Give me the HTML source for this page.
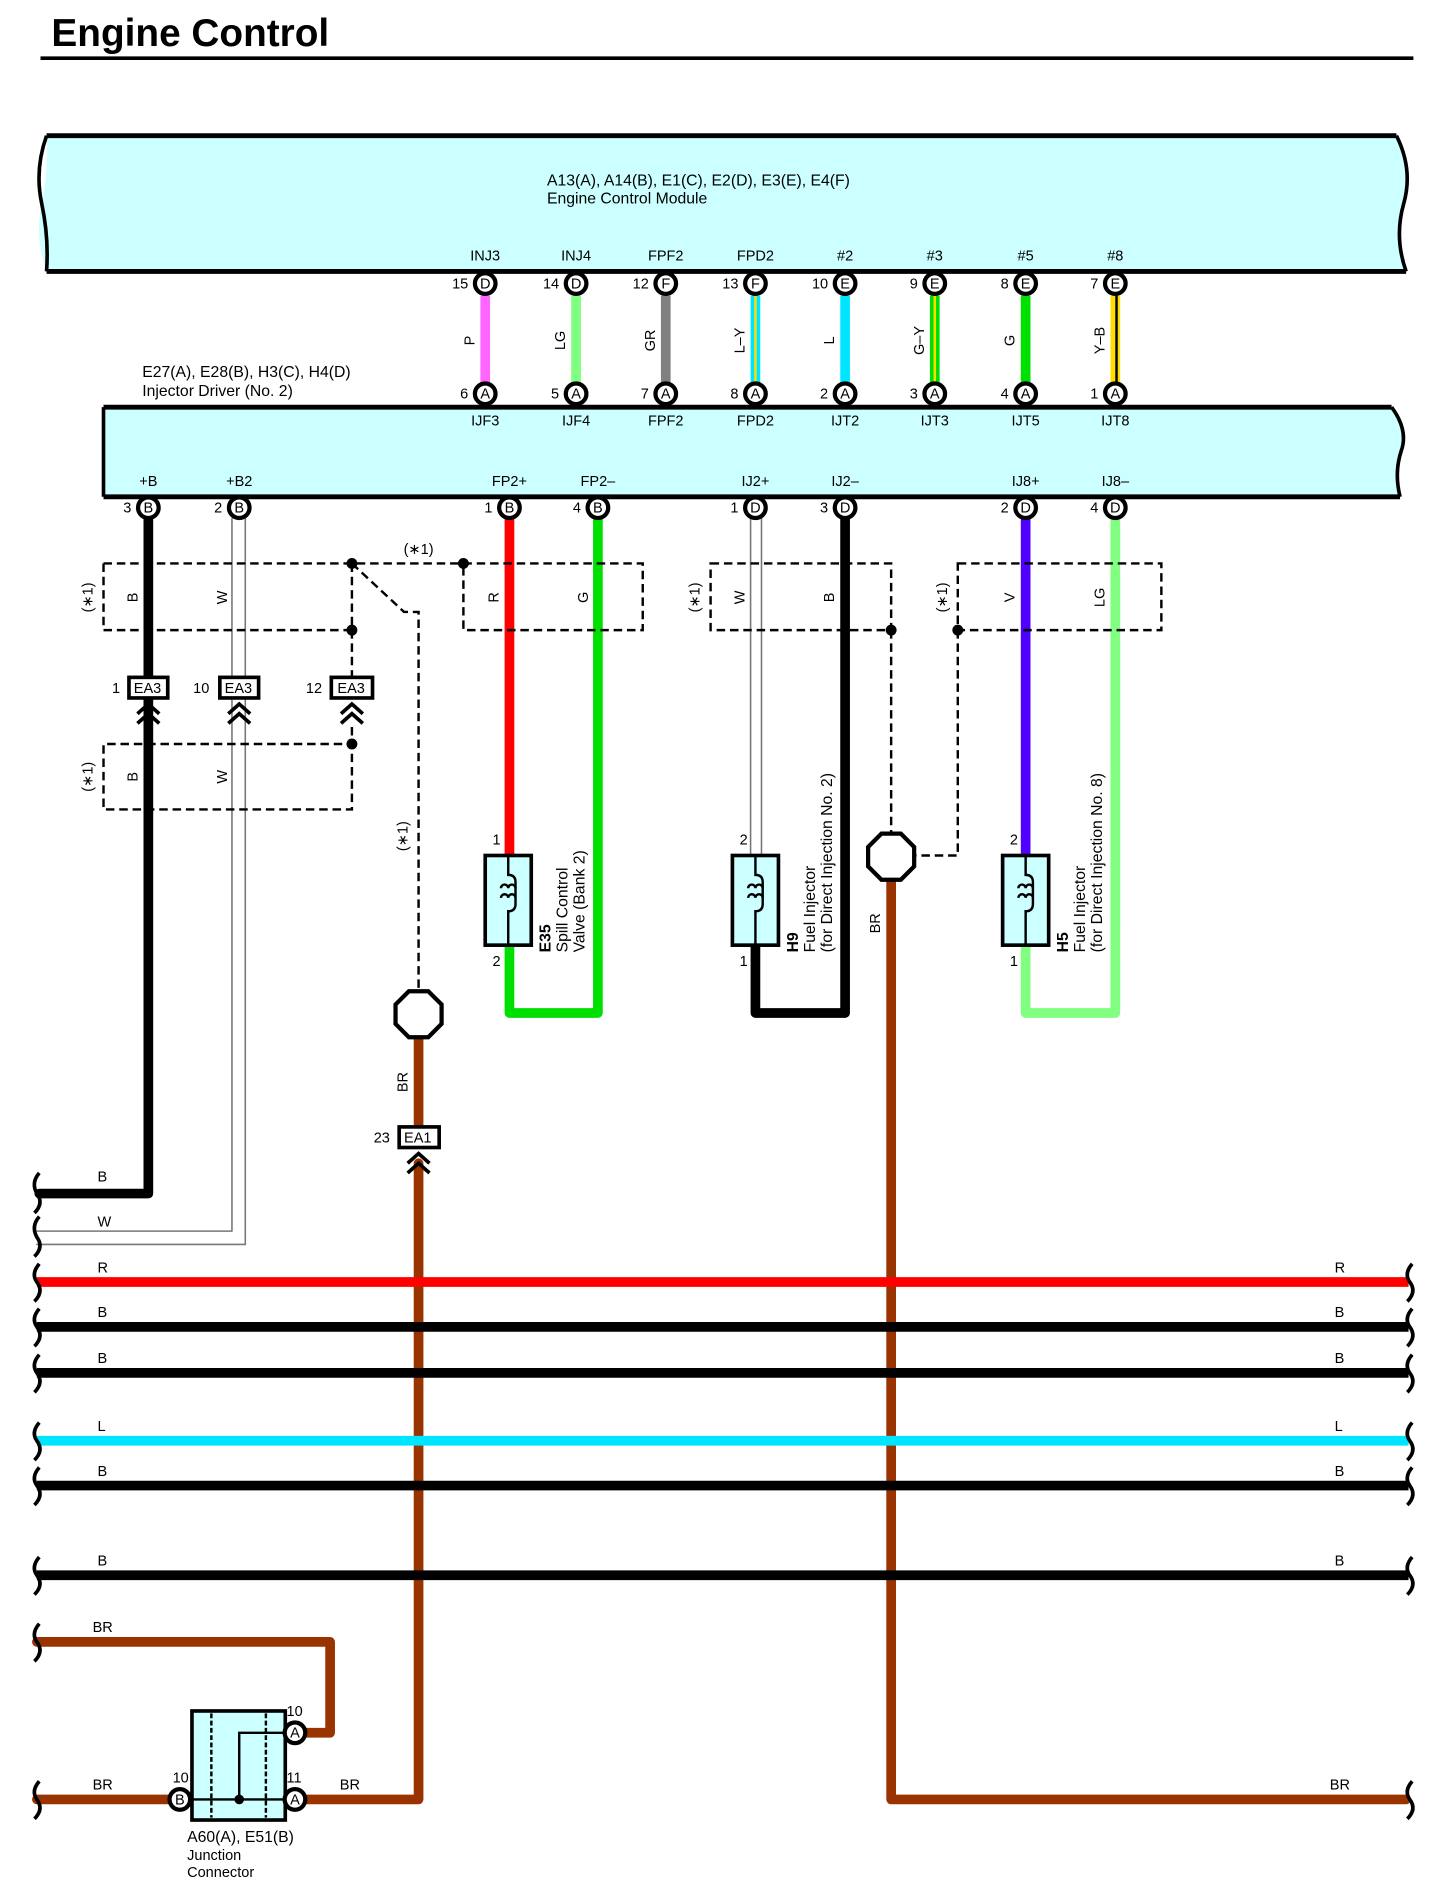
<!DOCTYPE html>
<html><head><meta charset="utf-8"><style>html,body{margin:0;padding:0;background:#fff}svg{display:block}</style></head>
<body>
<svg width="1443" height="1900" viewBox="0 0 1190 1568" xmlns="http://www.w3.org/2000/svg" font-family="Liberation Sans, sans-serif">
<rect width="1190" height="1568" fill="#fff"/>
<text x="42" y="38" font-size="32" font-weight="bold">Engine Control</text>
<line x1="33" y1="48" x2="1166" y2="48" stroke="#000" stroke-width="3"/>

<!-- ECM -->
<path d="M38,112 L1152,112 Q1166,140 1158,168 Q1150,196 1160,224 L38,224 Q28,196 34,168 Q40,140 38,112 Z" fill="#ccffff" stroke="none"/>
<line x1="38" y1="112" x2="1152" y2="112" stroke="#000" stroke-width="4"/>
<line x1="38" y1="224" x2="1160" y2="224" stroke="#000" stroke-width="4"/>
<path d="M38,112 Q28,140 34,168 Q40,196 38,224" fill="none" stroke="#000" stroke-width="3"/>
<path d="M1152,112 Q1166,140 1158,168 Q1150,196 1160,224" fill="none" stroke="#000" stroke-width="3"/>
<text x="451" y="153" font-size="13">A13(A), A14(B), E1(C), E2(D), E3(E), E4(F)</text>
<text x="451" y="168" font-size="13">Engine Control Module</text>

<!-- Injector driver -->
<path d="M85,336 L1148,336 Q1162,355 1156,372 Q1150,390 1155,410 L85,410 Z" fill="#ccffff"/>
<line x1="85" y1="336" x2="1148" y2="336" stroke="#000" stroke-width="4"/>
<line x1="85" y1="410" x2="1155" y2="410" stroke="#000" stroke-width="4"/>
<line x1="85" y1="336" x2="85" y2="410" stroke="#000" stroke-width="3"/>
<path d="M1148,336 Q1162,355 1156,372 Q1150,390 1155,410" fill="none" stroke="#000" stroke-width="3"/>
<text x="117" y="311" font-size="13">E27(A), E28(B), H3(C), H4(D)</text>
<text x="117" y="327" font-size="13">Injector Driver (No. 2)</text>

<!-- top wires -->
<g stroke-width="8">
<line x1="400" y1="244" x2="400" y2="316" stroke="#ff66ff"/>
<line x1="475" y1="244" x2="475" y2="316" stroke="#80ff80"/>
<line x1="549" y1="244" x2="549" y2="316" stroke="#808080"/>
<line x1="623" y1="244" x2="623" y2="316" stroke="#00e5ff"/>
<line x1="697" y1="244" x2="697" y2="316" stroke="#00e5ff"/>
<line x1="771" y1="244" x2="771" y2="316" stroke="#00e000"/>
<line x1="846" y1="244" x2="846" y2="316" stroke="#00e000"/>
<line x1="920" y1="244" x2="920" y2="316" stroke="#ffdd00"/>
</g>
<line x1="623" y1="244" x2="623" y2="316" stroke="#ffdd00" stroke-width="2"/>
<line x1="771" y1="244" x2="771" y2="316" stroke="#ffdd00" stroke-width="2"/>
<line x1="921" y1="244" x2="921" y2="316" stroke="#000" stroke-width="2"/>
<g font-size="12" text-anchor="middle">
<text transform="translate(391,281) rotate(-90)">P</text>
<text transform="translate(466,281) rotate(-90)">LG</text>
<text transform="translate(540,281) rotate(-90)">GR</text>
<text transform="translate(614,281) rotate(-90)">L–Y</text>
<text transform="translate(688,281) rotate(-90)">L</text>
<text transform="translate(762,281) rotate(-90)">G–Y</text>
<text transform="translate(837,281) rotate(-90)">G</text>
<text transform="translate(911,281) rotate(-90)">Y–B</text>
</g>
<g font-size="12" text-anchor="middle">
<text x="400" y="215">INJ3</text><text x="475" y="215">INJ4</text><text x="549" y="215">FPF2</text><text x="623" y="215">FPD2</text>
<text x="697" y="215">#2</text><text x="771" y="215">#3</text><text x="846" y="215">#5</text><text x="920" y="215">#8</text>
<text x="400" y="351">IJF3</text><text x="475" y="351">IJF4</text><text x="549" y="351">FPF2</text><text x="623" y="351">FPD2</text>
<text x="697" y="351">IJT2</text><text x="771" y="351">IJT3</text><text x="846" y="351">IJT5</text><text x="920" y="351">IJT8</text>
<text x="122" y="401">+B</text><text x="197" y="401">+B2</text><text x="420" y="401">FP2+</text><text x="493" y="401">FP2–</text>
<text x="623" y="401">IJ2+</text><text x="697" y="401">IJ2–</text><text x="846" y="401">IJ8+</text><text x="920" y="401">IJ8–</text>
</g>

<!-- lower wires -->
<g fill="none" stroke-linejoin="round" stroke-linecap="round">
<path d="M122,428 V985 H32" stroke="#000" stroke-width="8"/>
<path d="M191,428 V1016 H30" stroke="#777" stroke-width="1.3"/>
<path d="M202,428 V1027 H30" stroke="#777" stroke-width="1.3"/>
<path d="M420,428 V706" stroke="#ff0000" stroke-width="8"/>
<path d="M493,428 V836 H420 V780" stroke="#00e000" stroke-width="8"/>
<path d="M619,428 V706" stroke="#777" stroke-width="1.3"/>
<path d="M628,428 V706" stroke="#777" stroke-width="1.3"/>
<path d="M697,428 V836 H623 V780" stroke="#000" stroke-width="8"/>
<path d="M846,428 V706" stroke="#5000ff" stroke-width="8"/>
<path d="M920,428 V836 H846 V780" stroke="#80ff80" stroke-width="8"/>
<path d="M735,726 V1485 H1160" stroke="#993300" stroke-width="8"/>
<path d="M345,856 V930" stroke="#993300" stroke-width="8"/>
<path d="M345,960 V1485 H252" stroke="#993300" stroke-width="8"/>
<path d="M30,1355 H272 V1430 H252" stroke="#993300" stroke-width="8"/>
<path d="M30,1485 H140" stroke="#993300" stroke-width="8"/>
</g>
<g stroke-width="8">
<line x1="30" y1="1058" x2="1162" y2="1058" stroke="#ff0000"/>
<line x1="30" y1="1095" x2="1162" y2="1095" stroke="#000"/>
<line x1="30" y1="1133" x2="1162" y2="1133" stroke="#000"/>
<line x1="30" y1="1189" x2="1162" y2="1189" stroke="#00e5ff"/>
<line x1="30" y1="1226" x2="1162" y2="1226" stroke="#000"/>
<line x1="30" y1="1300" x2="1162" y2="1300" stroke="#000"/>
</g>
<g font-size="12">
<text x="80" y="975">B</text><text x="80" y="1012">W</text>
<text x="80" y="1050">R</text><text x="80" y="1087">B</text><text x="80" y="1125">B</text><text x="80" y="1181">L</text><text x="80" y="1218">B</text><text x="80" y="1292">B</text>
<text x="1101" y="1050">R</text><text x="1101" y="1087">B</text><text x="1101" y="1125">B</text><text x="1101" y="1181">L</text><text x="1101" y="1218">B</text><text x="1101" y="1292">B</text>
<text x="76" y="1347">BR</text><text x="76" y="1477">BR</text><text x="280" y="1477">BR</text><text x="1097" y="1477">BR</text>
</g>
<!-- wavy ends -->
<g fill="none" stroke="#000" stroke-width="3">
<path d="M32,968 q-7,8 -2,17 q6,8 -2,16"/>
<path d="M32,1004 q-7,8 -2,17 q6,8 -2,16"/>
<path d="M32,1043 q-7,8 -2,15 q6,8 -2,16"/>
<path d="M32,1080 q-7,8 -2,15 q6,8 -2,16"/>
<path d="M32,1118 q-7,8 -2,15 q6,8 -2,16"/>
<path d="M32,1174 q-7,8 -2,15 q6,8 -2,16"/>
<path d="M32,1211 q-7,8 -2,15 q6,8 -2,16"/>
<path d="M32,1285 q-7,8 -2,15 q6,8 -2,16"/>
<path d="M32,1340 q-7,8 -2,15 q6,8 -2,16"/>
<path d="M32,1470 q-7,8 -2,15 q6,8 -2,16"/>
<path d="M1165,1043 q-7,8 -2,15 q6,8 -2,16"/>
<path d="M1165,1080 q-7,8 -2,15 q6,8 -2,16"/>
<path d="M1165,1118 q-7,8 -2,15 q6,8 -2,16"/>
<path d="M1165,1174 q-7,8 -2,15 q6,8 -2,16"/>
<path d="M1165,1211 q-7,8 -2,15 q6,8 -2,16"/>
<path d="M1165,1285 q-7,8 -2,15 q6,8 -2,16"/>
<path d="M1165,1470 q-7,8 -2,15 q6,8 -2,16"/>
</g>

<!-- dashed shields -->
<g fill="none" stroke="#000" stroke-width="2" stroke-dasharray="7,4">
<path d="M85,465 H530 V520 H382 V465"/>
<path d="M290,465 V520 H85 V465"/>
<path d="M290,520 V560"/>
<path d="M290,600 V668 H85 V614 H290"/>
<path d="M290,465 L333,505 H345 V818"/>
<path d="M586,465 H735 V520 H586 Z"/>
<path d="M735,520 V688"/>
<path d="M790,465 H958 V520 H790 Z"/>
<path d="M790,520 V706 H755"/>
</g>
<g fill="#000">
<circle cx="290" cy="465" r="4.5"/><circle cx="290" cy="520" r="4.5"/><circle cx="290" cy="614" r="4.5"/>
<circle cx="382" cy="465" r="4.5"/><circle cx="735" cy="520" r="4.5"/><circle cx="790" cy="520" r="4.5"/>
</g>
<g font-size="12" text-anchor="middle">
<text x="345" y="457">(∗1)</text>
<text transform="translate(76,493) rotate(-90)">(∗1)</text>
<text transform="translate(76,641) rotate(-90)">(∗1)</text>
<text transform="translate(577,493) rotate(-90)">(∗1)</text>
<text transform="translate(781,493) rotate(-90)">(∗1)</text>
<text transform="translate(336,690) rotate(-90)">(∗1)</text>
<text transform="translate(113,493) rotate(-90)">B</text>
<text transform="translate(187,493) rotate(-90)">W</text>
<text transform="translate(113,641) rotate(-90)">B</text>
<text transform="translate(187,641) rotate(-90)">W</text>
<text transform="translate(411,493) rotate(-90)">R</text>
<text transform="translate(485,493) rotate(-90)">G</text>
<text transform="translate(614,493) rotate(-90)">W</text>
<text transform="translate(688,493) rotate(-90)">B</text>
<text transform="translate(837,493) rotate(-90)">V</text>
<text transform="translate(911,493) rotate(-90)">LG</text>
<text transform="translate(336,893) rotate(-90)">BR</text>
<text transform="translate(726,762) rotate(-90)">BR</text>
</g>

<!-- EA connectors -->
<g font-size="12">
<rect x="106" y="559" width="32" height="17" fill="#fff" stroke="#000" stroke-width="3"/><text x="110" y="572">EA3</text><text x="92" y="572">1</text>
<rect x="181" y="559" width="32" height="17" fill="#fff" stroke="#000" stroke-width="3"/><text x="185" y="572">EA3</text><text x="159" y="572">10</text>
<rect x="273" y="559" width="34" height="17" fill="#fff" stroke="#000" stroke-width="3"/><text x="278" y="572">EA3</text><text x="252" y="572">12</text>
<rect x="329" y="930" width="33" height="17" fill="#fff" stroke="#000" stroke-width="3"/><text x="333" y="943">EA1</text><text x="308" y="943">23</text>
</g>
<g fill="none" stroke="#000" stroke-width="3">
<path d="M113,589 l9,-8 l9,8 M113,597 l9,-8 l9,8"/>
<path d="M188,589 l9,-8 l9,8 M188,597 l9,-8 l9,8"/>
<path d="M281,589 l9,-8 l9,8 M281,597 l9,-8 l9,8"/>
<path d="M336,960 l9,-8 l9,8 M336,968 l9,-8 l9,8"/>
</g>

<!-- octagons -->
<polygon points="337,818 353,818 364,829 364,845 353,856 337,856 326,845 326,829" fill="#fff" stroke="#000" stroke-width="3.5"/>
<polygon points="727,688 743,688 754,699 754,715 743,726 727,726 716,715 716,699" fill="#fff" stroke="#000" stroke-width="3.5"/>

<!-- components -->
<g stroke="#000" stroke-width="3">
<rect x="400" y="706" width="38" height="74" fill="#ccffff"/>
<rect x="604" y="706" width="38" height="74" fill="#ccffff"/>
<rect x="827" y="706" width="38" height="74" fill="#ccffff"/>
</g>
<g fill="none" stroke="#000" stroke-width="2">
<path d="M419,706 V722 q6,0 6,6 v18 q0,6 -6,6 V780"/>
<path d="M413,733 a3,3 0 1 1 6,0 a3,3 0 1 1 6,0 M413,741 a3,3 0 1 1 6,0 a3,3 0 1 1 6,0"/>
<path d="M623,706 V722 q6,0 6,6 v18 q0,6 -6,6 V780"/>
<path d="M617,733 a3,3 0 1 1 6,0 a3,3 0 1 1 6,0 M617,741 a3,3 0 1 1 6,0 a3,3 0 1 1 6,0"/>
<path d="M846,706 V722 q6,0 6,6 v18 q0,6 -6,6 V780"/>
<path d="M840,733 a3,3 0 1 1 6,0 a3,3 0 1 1 6,0 M840,741 a3,3 0 1 1 6,0 a3,3 0 1 1 6,0"/>
</g>
<g font-size="12">
<text x="406" y="697">1</text><text x="406" y="797">2</text>
<text x="610" y="697">2</text><text x="610" y="797">1</text>
<text x="833" y="697">2</text><text x="833" y="797">1</text>
</g>
<g font-size="13">
<text transform="translate(454,786) rotate(-90)" font-weight="bold">E35</text>
<text transform="translate(468,786) rotate(-90)">Spill Control</text>
<text transform="translate(482,786) rotate(-90)">Valve (Bank 2)</text>
<text transform="translate(658,786) rotate(-90)" font-weight="bold">H9</text>
<text transform="translate(672,786) rotate(-90)">Fuel Injector</text>
<text transform="translate(686,786) rotate(-90)">(for Direct Injection No. 2)</text>
<text transform="translate(881,786) rotate(-90)" font-weight="bold">H5</text>
<text transform="translate(895,786) rotate(-90)">Fuel Injector</text>
<text transform="translate(909,786) rotate(-90)">(for Direct Injection No. 8)</text>
</g>

<!-- junction connector -->
<rect x="158" y="1412" width="77" height="90" fill="#ccffff" stroke="#000" stroke-width="3"/>
<g stroke="#000" stroke-width="2" fill="none">
<line x1="174" y1="1414" x2="174" y2="1500" stroke-dasharray="4,2"/>
<line x1="219" y1="1414" x2="219" y2="1500" stroke-dasharray="4,2"/>
<path d="M158,1485 H235 M197,1485 V1430 H235"/>
</g>
<circle cx="197" cy="1485" r="4" fill="#000"/>

<!-- pins -->
<g font-size="12" text-anchor="middle">
<g stroke="#000" stroke-width="3.5" fill="#fff">
<circle cx="400" cy="234" r="8.5"/><circle cx="475" cy="234" r="8.5"/><circle cx="549" cy="234" r="8.5"/><circle cx="623" cy="234" r="8.5"/>
<circle cx="697" cy="234" r="8.5"/><circle cx="771" cy="234" r="8.5"/><circle cx="846" cy="234" r="8.5"/><circle cx="920" cy="234" r="8.5"/>
<circle cx="400" cy="325" r="8.5"/><circle cx="475" cy="325" r="8.5"/><circle cx="549" cy="325" r="8.5"/><circle cx="623" cy="325" r="8.5"/>
<circle cx="697" cy="325" r="8.5"/><circle cx="771" cy="325" r="8.5"/><circle cx="846" cy="325" r="8.5"/><circle cx="920" cy="325" r="8.5"/>
<circle cx="122" cy="419" r="8.5"/><circle cx="197" cy="419" r="8.5"/><circle cx="420" cy="419" r="8.5"/><circle cx="493" cy="419" r="8.5"/>
<circle cx="623" cy="419" r="8.5"/><circle cx="697" cy="419" r="8.5"/><circle cx="846" cy="419" r="8.5"/><circle cx="920" cy="419" r="8.5"/>
<circle cx="243" cy="1430" r="8.5"/><circle cx="243" cy="1485" r="8.5"/><circle cx="148" cy="1485" r="8.5"/>
</g>
<text x="400" y="238">D</text><text x="475" y="238">D</text><text x="549" y="238">F</text><text x="623" y="238">F</text>
<text x="697" y="238">E</text><text x="771" y="238">E</text><text x="846" y="238">E</text><text x="920" y="238">E</text>
<text x="400" y="329">A</text><text x="475" y="329">A</text><text x="549" y="329">A</text><text x="623" y="329">A</text>
<text x="697" y="329">A</text><text x="771" y="329">A</text><text x="846" y="329">A</text><text x="920" y="329">A</text>
<text x="122" y="423">B</text><text x="197" y="423">B</text><text x="420" y="423">B</text><text x="493" y="423">B</text>
<text x="623" y="423">D</text><text x="697" y="423">D</text><text x="846" y="423">D</text><text x="920" y="423">D</text>
<text x="243" y="1434">A</text><text x="243" y="1489">A</text><text x="148" y="1489">B</text>
</g>
<g font-size="12" text-anchor="end">
<text x="386" y="238">15</text><text x="461" y="238">14</text><text x="535" y="238">12</text><text x="609" y="238">13</text>
<text x="683" y="238">10</text><text x="757" y="238">9</text><text x="832" y="238">8</text><text x="906" y="238">7</text>
<text x="386" y="329">6</text><text x="461" y="329">5</text><text x="535" y="329">7</text><text x="609" y="329">8</text>
<text x="683" y="329">2</text><text x="757" y="329">3</text><text x="832" y="329">4</text><text x="906" y="329">1</text>
<text x="108" y="423">3</text><text x="183" y="423">2</text><text x="406" y="423">1</text><text x="479" y="423">4</text>
<text x="609" y="423">1</text><text x="683" y="423">3</text><text x="832" y="423">2</text><text x="906" y="423">4</text>
</g>
<g font-size="12">
<text x="236" y="1416">10</text><text x="236" y="1471">11</text><text x="142" y="1471">10</text>
<text x="154" y="1520" font-size="13">A60(A), E51(B)</text>
<text x="154" y="1535">Junction</text>
<text x="154" y="1549">Connector</text>
</g>
</svg>
</body></html>
